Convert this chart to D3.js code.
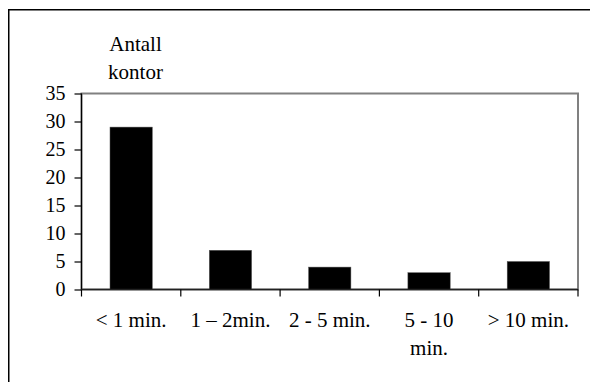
<!DOCTYPE html>
<html>
<head>
<meta charset="utf-8">
<script src="https://cdn.jsdelivr.net/npm/d3@7"></script>
<style>
  html, body { margin: 0; padding: 0; background: #fff; }
  svg { display: block; }
</style>
</head>
<body>
<div id="chart"></div>
<script>
const categories = ["< 1 min.", "1 – 2min.", "2 - 5 min.", "5 - 10|min.", "> 10 min."];
const values = [29, 7, 4, 3, 5];
const yTicks = [0, 5, 10, 15, 20, 25, 30, 35];
const yTitle = ["Antall", "kontor"];

(function () {
const W = 590, H = 382;
const FONT = "Liberation Serif";
const svg = d3.select("#chart").append("svg").attr("width", W).attr("height", H);

// outer frame (extends beyond the window on right/bottom)
svg.append("rect").attr("x", 8.75).attr("y", 9.75).attr("width", 700).attr("height", 500)
  .attr("fill", "none").attr("stroke", "#000").attr("stroke-width", 1.5);

const pL = 81.5, pR = 578, pT = 93.5, pB = 289.5;

const y = d3.scaleLinear().domain([0, 35]).range([pB, pT]);
const xBand = d3.scaleBand().domain(categories).range([pL, pR]).padding(0);
const xBar = d3.scaleBand().domain(categories).range([pL, pR])
  .paddingInner(0.574).paddingOuter(0.287);

// plot area border
svg.append("rect").attr("x", pL).attr("y", pT)
  .attr("width", pR - pL).attr("height", pB - pT)
  .attr("fill", "none").attr("stroke", "#808080").attr("stroke-width", 2);

// bars
svg.append("g").selectAll("rect").data(values).join("rect")
  .attr("x", (d, i) => xBar(categories[i]))
  .attr("y", d => y(d))
  .attr("width", xBar.bandwidth())
  .attr("height", d => y(0) - y(d))
  .attr("fill", "#000")
  .attr("stroke", "#555").attr("stroke-width", 0.5);

// y axis
const yAxis = d3.axisLeft(y).tickValues(yTicks).tickSize(7).tickPadding(9).tickFormat(d3.format("d"));
const gy = svg.append("g").attr("transform", `translate(${pL},0)`).call(yAxis);
gy.select(".domain").attr("stroke", "#000").attr("stroke-width", 1.2).attr("d", `M0,${pT}V${pB}`);
gy.selectAll(".tick line").attr("stroke", "#000").attr("stroke-width", 1.2);
gy.selectAll(".tick text").style("font-family", FONT).style("font-size", "20px").attr("fill", "#000");

// x axis line
svg.append("line").attr("x1", pL).attr("x2", pR).attr("y1", pB).attr("y2", pB)
  .attr("stroke", "#222").attr("stroke-width", 1.5);

// x ticks at band boundaries
const boundaries = categories.map(c => xBand(c)).concat([xBand.range()[1]]);
svg.append("g").selectAll("line").data(boundaries).join("line")
  .attr("x1", d => d).attr("x2", d => d)
  .attr("y1", pB).attr("y2", pB + 7)
  .attr("stroke", "#000").attr("stroke-width", 1.2);

// x category labels
const lab = svg.append("g").selectAll("text").data(categories).join("text")
  .attr("x", c => xBand(c) + xBand.bandwidth() / 2)
  .attr("y", 327)
  .attr("text-anchor", "middle")
  .attr("fill", "#000")
  .style("font-family", FONT).style("font-size", "21px");
lab.each(function(c) {
  const parts = c.split("|");
  const t = d3.select(this);
  parts.forEach((p, j) => {
    t.append("tspan").attr("x", xBand(c) + xBand.bandwidth() / 2).attr("dy", j === 0 ? 0 : 28).text(p);
  });
});

// y title
const tt = svg.append("text").attr("x", 135.5).attr("y", 51).attr("text-anchor", "middle")
  .attr("fill", "#000").style("font-family", FONT).style("font-size", "21px");
yTitle.forEach((p, j) => tt.append("tspan").attr("x", 135.5).attr("dy", j === 0 ? 0 : 28).text(p));
})();
</script>
</body>
</html>
